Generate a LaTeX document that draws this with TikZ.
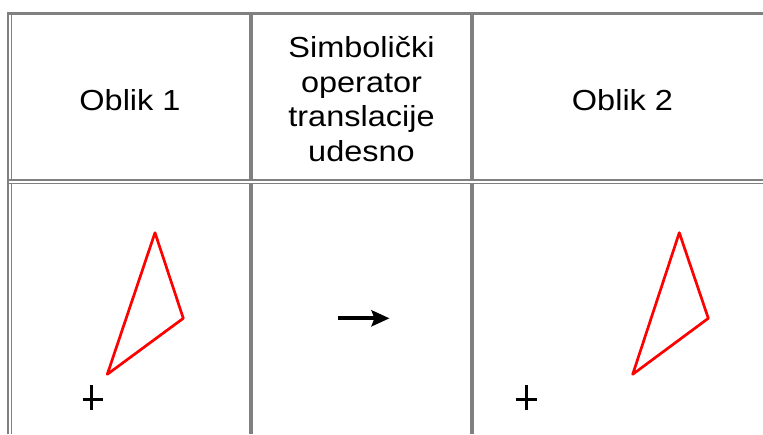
\documentclass[tikz,border=0pt]{standalone}
\usepackage{fontspec}
\setmainfont{Liberation Sans}
\usepackage{graphicx}
\usetikzlibrary{arrows.meta}
\definecolor{tblgray}{RGB}{128,128,128}
\newcommand{\sx}[1]{\scalebox{1.12}[1]{#1}}
\begin{document}
\begin{tikzpicture}[x=1pt,y=-1pt,
  rule/.style={draw=tblgray,line width=#1},
  lbl/.style={font=\fontsize{29}{34.5}\selectfont, inner sep=0pt},
  tri/.style={draw=red,line width=2.7pt,line join=round},
  crs/.style={draw=black,line width=3.4pt},
  arr/.style={draw=black,line width=4pt,-{Stealth[length=18pt,width=16pt,inset=3pt]}}
]
\useasboundingbox (0,0) rectangle (763,434);
% outer border
\draw[rule=3.3pt] (7.3,13.65) -- (763,13.65);
\draw[rule=2pt] (8.3,12) -- (8.3,434);
% row separation (double line)
\draw[rule=1.4pt] (9.3,180) -- (763,180);
\draw[rule=1.4pt] (9.3,183.3) -- (763,183.3);
% cell verticals
\foreach \x/\w in {11.3/1.4pt, 251/3.4pt, 472/3.6pt} {
  \draw[rule=\w] (\x,15.3) -- (\x,180.7);
  \draw[rule=\w] (\x,182.6) -- (\x,434);
}
% header texts (base anchor = last line's baseline)
\node[lbl, anchor=base] (h1) at (130,110) {\sx{Oblik 1}};
\node[lbl, anchor=base, align=center] (h2) at (361.5,161)
  {\sx{Simbolički}\\\sx{operator}\\\sx{translacije}\\\sx{udesno}};
\node[lbl, anchor=base] (h3) at (622.5,110) {\sx{Oblik 2}};
% shape 1
\coordinate (t1a) at (155,232.7);
\coordinate (t1b) at (183.3,318.3);
\coordinate (t1c) at (107.3,374.3);
\draw[tri] (t1a) -- (t1b) -- (t1c) -- cycle;
\coordinate (c1) at (92.5,399.5);
\draw[crs] (c1) ++(-10,0) -- ++(20.5,0);
\draw[crs] (c1) ++(-0.8,-14.5) -- ++(0,24.5);
% operator
\coordinate (a1) at (338.3,318.3);
\coordinate (a2) at (389.5,318.3);
\draw[arr] (a1) -- (a2);
% shape 2
\coordinate (t2a) at (679.3,232.7);
\coordinate (t2b) at (708.3,318.3);
\coordinate (t2c) at (632.7,374.3);
\draw[tri] (t2a) -- (t2b) -- (t2c) -- cycle;
\coordinate (c2) at (526.7,399.5);
\draw[crs] (c2) ++(-10.5,0) -- ++(21,0);
\draw[crs] (c2) ++(0,-14.5) -- ++(0,24.5);
\end{tikzpicture}
\end{document}
